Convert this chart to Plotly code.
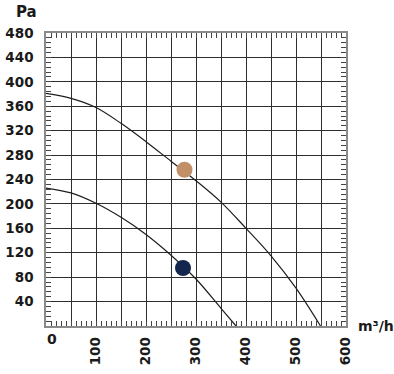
import plotly.graph_objects as go

# Data
upper_x = [0, 50, 100, 150, 200, 250, 300, 350, 400, 450, 500, 549]
upper_y = [381, 373, 358, 332, 302, 270, 238, 203, 160, 115, 62, 0]
lower_x = [0, 50, 100, 150, 200, 250, 300, 350, 380]
lower_y = [226, 218, 201, 178, 150, 116, 77, 29, 0]
point_x = [277, 274]
point_y = [256, 95]
point_colors = ["#c19068", "#13264d"]

x_ticks = list(range(0, 601, 50))
x_labels = [str(v) if v % 100 == 0 and v > 0 else "" for v in x_ticks]
y_ticks = list(range(0, 481, 40))
y_labels = [str(v) if v > 0 else "" for v in y_ticks]

FONT = "DejaVu Sans, Arial, sans-serif"
LINE = "#1e1e1e"
GRID = "#2e2e2e"
TXT = "#1a1a1a"

fig = go.Figure()
fig.add_trace(go.Scatter(x=upper_x, y=upper_y, mode="lines", line=dict(color=LINE, width=1.2, shape="spline"),
                         hoverinfo="skip", showlegend=False))
fig.add_trace(go.Scatter(x=lower_x, y=lower_y, mode="lines", line=dict(color=LINE, width=1.2, shape="spline"),
                         hoverinfo="skip", showlegend=False))
fig.add_trace(go.Scatter(x=point_x, y=point_y, mode="markers",
                         marker=dict(color=point_colors, size=16, line=dict(width=0)),
                         showlegend=False))

axis_common = dict(
    automargin=False,
    showline=True, linecolor="#8a8a8a", linewidth=1.5, mirror="allticks",
    showgrid=True, gridcolor=GRID, gridwidth=1.4,
    ticks="inside", ticklen=5, tickcolor="#444", tickwidth=1,
    zeroline=False,
    tickfont=dict(family=FONT, size=13.5, color=TXT, weight="bold"),
)

fig.update_xaxes(**axis_common, range=[0, 600], tickmode="array", tickvals=x_ticks, ticktext=x_labels,
                 tickangle=-90, ticklabelstandoff=4,
                 minor=dict(dtick=10, ticks="inside", ticklen=5, tickcolor="#444", tickwidth=1, showgrid=False))
fig.update_yaxes(**axis_common, range=[0, 480], tickmode="array", tickvals=y_ticks, ticktext=y_labels,
                 ticklabelstandoff=8,
                 minor=dict(dtick=8, ticks="inside", ticklen=5, tickcolor="#444", tickwidth=1, showgrid=False))

pw = 394 - 46 - 48
ph = 374 - 33 - 48

fig.add_annotation(text="<b>Pa</b>", x=(26 - 46) / pw, y=(374 - 48 - 12) / ph, xref="paper", yref="paper",
                   xanchor="center", yanchor="middle", showarrow=False,
                   font=dict(family=FONT, size=15, color=TXT))
fig.add_annotation(text="<b>0</b>", x=0, y=0, xref="x", yref="y", xshift=6, yshift=-13, showarrow=False,
                   font=dict(family=FONT, size=14, color=TXT))
fig.add_annotation(text="<b>m³/h</b>", x=1, y=0, xref="paper", yref="y", xanchor="left", xshift=10, yshift=0,
                   showarrow=False, font=dict(family=FONT, size=14, color=TXT))

fig.update_layout(
    template="none",
    width=394, height=374,
    margin=dict(l=46, r=48, t=33, b=48),
    paper_bgcolor="white", plot_bgcolor="white",
)

fig.write_html("out.html", config={"displayModeBar": False},
               post_script="document.body.style.margin='0';document.body.style.padding='0';")
